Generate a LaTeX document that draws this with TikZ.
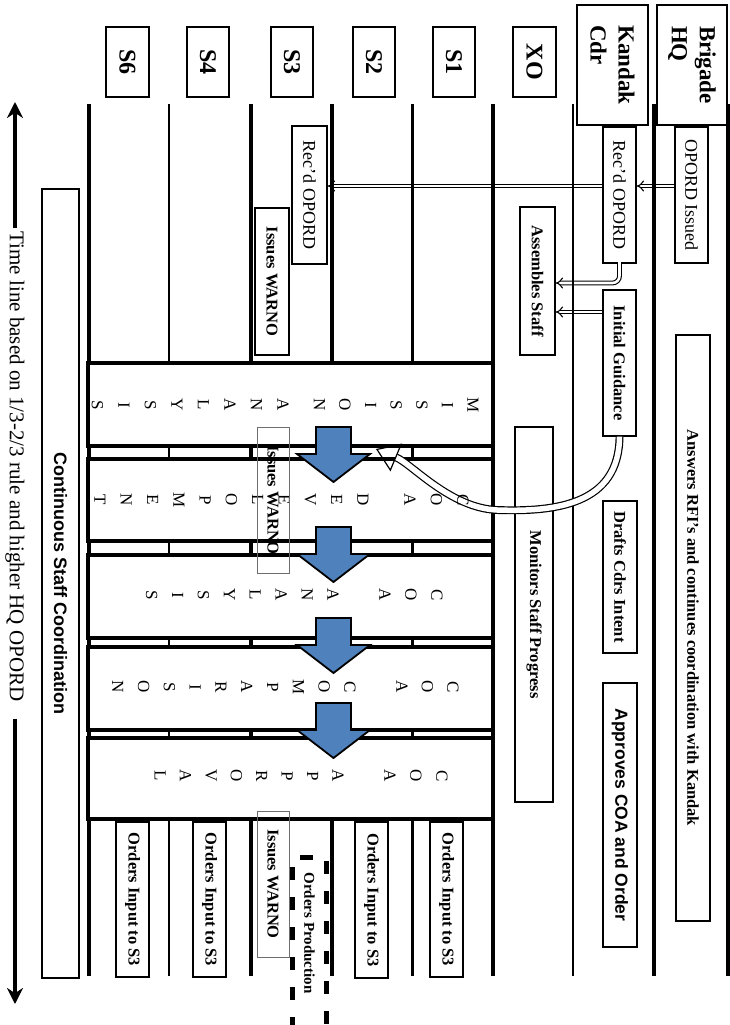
\documentclass[tikz,border=0pt]{standalone}
\usepackage{fontspec}
\setmainfont{Liberation Serif}
\newfontfamily\arialfont{Liberation Sans}
\usetikzlibrary{arrows.meta}
\definecolor{blockblue}{RGB}{79,129,189}
\definecolor{warnogray}{RGB}{110,110,110}
\newcommand\mybox[7][]{\node[vbox,#1,minimum width={(#6-#4)*1pt},minimum height={(#5-#3)*1pt}] (#2) at ({(#3+#5)/2},{(#4+#6)/2}) {#7};}
\newcommand\colword[5]{\foreach \ltr [count=\i] in {#5} {\node[letter] (#1\i) at ({#2-(\i-1)*#3},#4) {\ltr};}}
\newcommand\blockarrow[2]{\filldraw[barrow] (#1-17.5,#2) -- (#1+17.5,#2) -- (#1+17.5,#2+27) -- (#1+36.5,#2+27) -- (#1,#2+55) -- (#1-36.5,#2+27) -- (#1-17.5,#2+27) -- cycle;}
\begin{document}
\begin{tikzpicture}[x=1pt,y=-1pt,
  vbox/.style={draw, line width=1.3pt, rotate=-90, inner sep=0pt, fill=white, align=center,
    font=\fontsize{16.5}{19}\selectfont\bfseries},
  reg/.style={font=\fontsize{18}{20}\selectfont},
  sansb/.style={font=\fontsize{17.5}{19}\selectfont\arialfont\bfseries},
  hdr/.style={line width=2pt, font=\fontsize{24}{28}\selectfont\bfseries},
  hdrbig/.style={line width=2pt, align=left, font=\fontsize{23}{28}\selectfont\bfseries},
  thin/.style={draw=warnogray, line width=0.8pt, fill=none},
  letter/.style={rotate=-90, inner sep=0pt, font=\fontsize{17}{17}\selectfont},
  row/.style={draw, line width=3.5pt, fill=white},
  dbl/.style={double=white, double distance=2.6pt, line width=1.1pt, -{Implies}},
  curv/.style={double=white, double distance=5.5pt, line width=1.2pt, -{Triangle[open, length=22pt, width=30pt]}},
  barrow/.style={fill=blockblue, draw=black, line width=1.8pt, line join=miter},
  tltext/.style={rotate=-90, inner sep=0pt, font=\fontsize{21}{24}\selectfont},
  optext/.style={rotate=-90, inner sep=0pt, font=\fontsize{15}{17}\selectfont\bfseries},
  opdash/.style={line width=5pt, dash pattern=on 13pt off 17pt},
  tlarrow/.style={line width=3.5pt, -{Stealth[length=16pt, width=16pt]}}
]
\useasboundingbox (0,0) rectangle (730,1025);
\clip (0,0) rectangle (730,1025);
% headers
\mybox[hdr]{hS6}{106}{27}{149}{97}{S6}
\mybox[hdr]{hS4}{187}{27}{229}{97}{S4}
\mybox[hdr]{hS3}{271}{27}{313}{97}{S3}
\mybox[hdr]{hS2}{353}{27}{395}{97}{S2}
\mybox[hdr]{hS1}{433}{27}{475}{97}{S1}
\mybox[hdr]{hXO}{513}{27}{556}{97}{XO}
\mybox[hdrbig]{hKC}{577}{5}{648}{125}{Kandak\\Cdr}
\mybox[hdrbig]{hBH}{657}{5}{727}{125}{Brigade\\HQ}
% Brigade HQ lane
\mybox[reg]{bro}{675}{127}{708}{263}{OPORD Issued}
\mybox{bans}{676}{335}{710}{921}{Answers RFI's and continues coordination with Kandak}
% Kandak lane
\mybox[reg]{kro}{603}{127}{636}{263}{Rec'd OPORD}
\mybox{ig}{603}{290}{636}{436}{Initial Guidance}
\mybox{dci}{603}{501}{637}{653}{Drafts Cdrs Intent}
\mybox[sansb]{acoa}{603}{683}{637}{947}{Approves COA and Order}
% XO lane
\mybox{as}{520}{207}{555}{355}{Assembles Staff}
\mybox{msp}{515}{427}{553}{802}{Monitors Staff Progress}
% S3 lane
\mybox[reg]{sro}{292}{126}{327}{264}{Rec'd OPORD}
\mybox{iw1}{255}{208}{289}{355}{Issues WARNO}
% orders input
\mybox{oi1}{430}{822}{463}{977}{Orders Input to S3}
\mybox{oi2}{355}{822}{388}{978}{Orders Input to S3}
\mybox{oi4}{193}{822}{226}{977}{Orders Input to S3}
\mybox{oi6}{116}{822}{149}{977}{Orders Input to S3}
% continuous coordination
\mybox[sansb, font=\fontsize{18}{20}\selectfont\arialfont\bfseries]{csc}{42}{189}{79}{978}{Continuous Staff Coordination}
% time line
\node[tltext] (tl) at (15,466.5) {Time line based on 1/3-2/3 rule and higher HQ OPORD};
\coordinate (tltop) at (15,102);
\coordinate (tlbot) at (15,1004);
\draw[tlarrow] ([yshift=3pt]tl.west) -- (tltop);
\draw[tlarrow] ([yshift=-17pt]tl.east) -- (tlbot);
% straight double arrows
\draw[dbl] ([yshift=9pt]bro.south) -- ([yshift=9pt]kro.north);
\draw[dbl] ([yshift=9pt]kro.south) -- ([yshift=9pt]sro.north);
\draw[dbl, rounded corners=7pt] ([yshift=1.5pt]kro.east) |- ([yshift=-2pt]as.north);
\draw[dbl] ([yshift=51pt]ig.south) -- ([yshift=51pt]ig.south -| as.north);
% lane lines
\foreach \lx/\lw in {89/3.5, 169/2.5, 251/3.5, 332/3.5, 412/3, 493/3.5, 573/2.5, 654/3.5, 728/3.5}
  {\draw[line width=\lw pt] (\lx,104) -- (\lx,976);}
% phase rows
\foreach \ra/\rb in {363/446, 459/541, 555/638, 647/730, 738/819}
  {\draw[row] (88,\ra) rectangle (493,\rb);}
% curved arrow from initial guidance
\coordinate (cvend) at (376,449);
\draw[curv] (ig.east) .. controls (619,505) and (555,512) .. (497,510) .. controls (450,508) and (412,464) .. (cvend);
% phase letters
\colword{ra}{473}{25.6}{405}{M,I,S,S,I,O,N}
\colword{rb}{283}{26.5}{405}{A,N,A,L,Y,S,I,S}
\colword{rc}{463}{26.5}{500}{C,O,A}
\colword{rd}{363}{26.3}{500}{D,E,V,E,L,O,P,M,E,N,T}
\colword{re}{437}{26}{595}{C,O,A}
\colword{rf}{333}{25.9}{595}{A,N,A,L,Y,S,I,S}
\colword{rg}{453}{25.5}{687}{C,O,A}
\colword{rh}{350}{25.8}{687}{C,O,M,P,A,R,I,S,O,N}
\colword{ri}{442}{26}{776}{C,O,A}
\colword{rj}{338}{25.4}{776}{A,P,P,R,O,V,A,L}
% blue block arrows
\blockarrow{333.5}{427}
\blockarrow{333.5}{527}
\blockarrow{333.5}{618}
\blockarrow{333.5}{703}
% warno boxes over table
\mybox[thin]{iw2}{257}{427}{289}{573}{Issues WARNO}
\mybox[thin]{iw3}{257}{811}{289}{957}{Issues WARNO}
% orders production
\node[optext] (op) at (309.5,933) {Orders Production};
\draw[opdash] (292.5,1030) -- (292.5,857.5) -- (326.5,857.5) -- (326.5,1030);
\end{tikzpicture}
\end{document}
